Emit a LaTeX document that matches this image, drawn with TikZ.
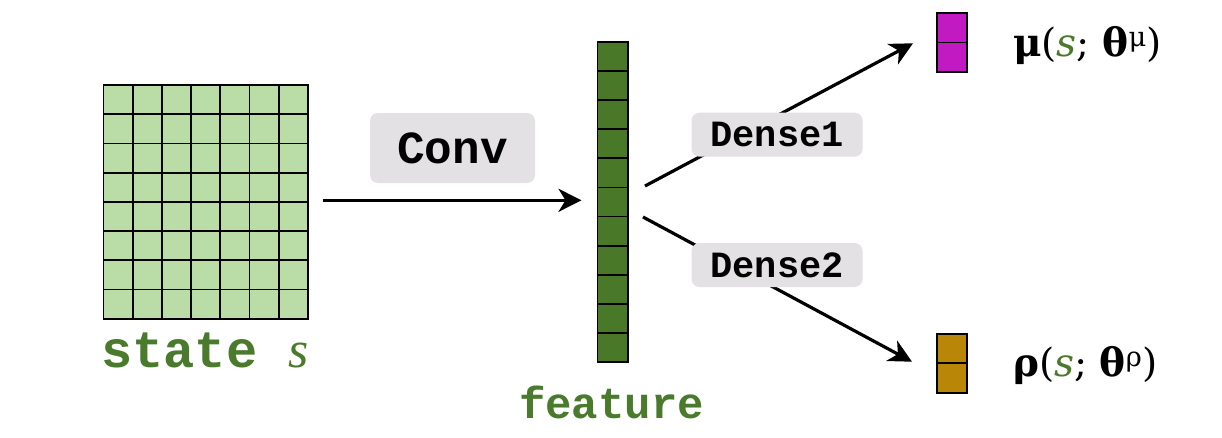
\documentclass[tikz,border=0pt]{standalone}
\usepackage{fontspec}
\usetikzlibrary{arrows.meta}
\setmainfont{Liberation Serif}
\newfontfamily\codefont{Liberation Mono}
\newfontfamily\headfont{DejaVu Serif}
\newcommand{\headsize}{\fontsize{39}{39}\selectfont}
\definecolor{gridlight}{RGB}{186,220,166}
\definecolor{featgreen}{RGB}{72,120,40}
\definecolor{labgreen}{RGB}{74,122,44}
\definecolor{mucol}{RGB}{194,26,194}
\definecolor{rhocol}{RGB}{186,134,8}
\definecolor{tagbg}{RGB}{227,225,227}
\begin{document}
\begin{tikzpicture}[x=1pt,y=-1pt,
  cellline/.style={line width=1.8pt,black},
  block/.style={draw=black,line width=1.8pt,inner sep=0pt,outer sep=0pt},
  arr/.style={line width=3.2pt,-{Stealth[length=23pt,width=23pt,inset=7pt]}},
  tag/.style={fill=tagbg,rounded corners=8pt,inner sep=0pt},
  outlab/.style={inner sep=0pt,anchor=base west}]
\useasboundingbox (0,0) rectangle (1222,437);
\fill[white] (0,0) rectangle (1222,437);

% input state: 7 x 8 grid
\node[block,fill=gridlight,minimum width=204.4pt,minimum height=233.6pt] (state) at (205.7,201.8) {};
\foreach \i in {1,...,6} \draw[cellline] (103.5+\i*29.2,85) -- ++(0,233.6);
\foreach \j in {1,...,7} \draw[cellline] (103.5,85+\j*29.2) -- ++(204.4,0);
\node[inner sep=0pt,anchor=base west,text=labgreen] (statelab) at (101,367)
  {\fontsize{52}{52}\selectfont\codefont\bfseries state\ \normalfont\itshape s};

% feature vector: 11 cells
\node[block,fill=featgreen,minimum width=30.2pt,minimum height=320.6pt] (feature) at (612.6,202) {};
\foreach \j in {1,...,10} \draw[cellline] (597.5,41.7+\j*29.145) -- ++(30.2,0);
\node[inner sep=0pt,anchor=base,text=labgreen]
  (featlab) at ([shift={(-1,216)}]feature.center) {\fontsize{44}{44}\selectfont\codefont\bfseries feature};

% output heads
\node[block,fill=mucol,minimum width=30.6pt,minimum height=59.6pt] (mu) at (952,42.5) {};
\draw[cellline] (mu.west) -- (mu.east);
\node[block,fill=rhocol,minimum width=30.6pt,minimum height=58.7pt] (rho) at (952,363.3) {};
\draw[cellline] (rho.west) -- (rho.east);

\node[outlab] (mulab) at (1013,56)
  {\headfont\headsize{\bfseries μ}(\textcolor{labgreen}{\itshape s}; {\bfseries θ}\textsuperscript{μ})};
\node[outlab] (rholab) at (1013,376)
  {\headfont\headsize{\bfseries ρ}(\textcolor{labgreen}{\itshape s}; {\bfseries θ}\textsuperscript{ρ})};

% connectors
\draw[arr,shorten <=15pt,shorten >=16pt] ([yshift=1.5pt]state.east) -- ([yshift=1.5pt]state.east -| feature.west);
\coordinate (f1) at ([shift={(17.3,-16)}]feature.east);
\coordinate (f2) at ([shift={(15.3,15)}]feature.east);
\draw[arr] (f1) -- ([shift={(-23.7,0.8)}]mu.west);
\draw[arr] (f2) -- ([shift={(-24.7,-1.6)}]rho.west);

% layer tags
\node[tag,minimum width=165pt,minimum height=70pt] (conv) at (452.5,148) {\fontsize{46}{46}\selectfont\codefont\bfseries Conv};
\node[tag,minimum width=171pt,minimum height=44pt] (dense1) at (777,134.7) {\fontsize{37}{37}\selectfont\codefont\bfseries Dense1};
\node[tag,minimum width=171pt,minimum height=44pt] (dense2) at (777,265) {\fontsize{37}{37}\selectfont\codefont\bfseries Dense2};
\end{tikzpicture}
\end{document}
